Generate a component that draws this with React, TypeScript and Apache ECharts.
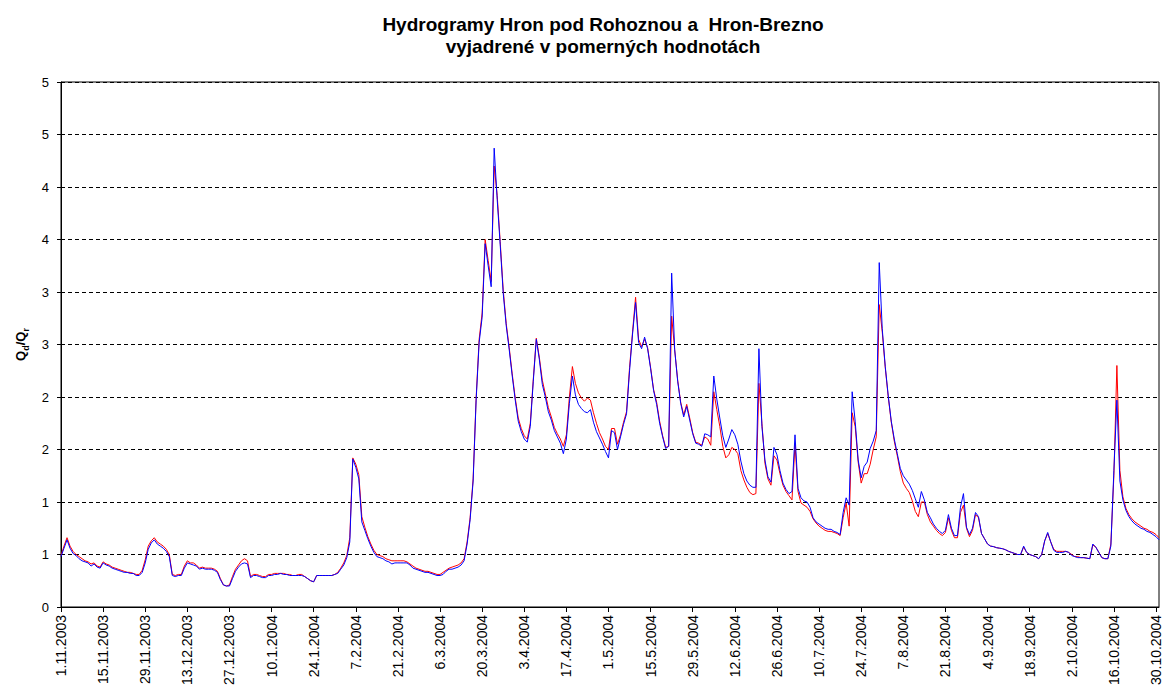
import React, { useEffect, useRef } from "react";
import * as echarts from "echarts";

// Daily discharge ratio Qd/Qr, hydrological year 1.11.2003 – 31.10.2004
const START = { year: 2003, month: 10, day: 1 };
const DAY_COUNT = 366;

// Hron pod Rohoznou (blue)
const qRohozna: number[] = [
  0.48, 0.56, 0.64, 0.56, 0.51, 0.49, 0.46, 0.44, 0.43, 0.42,
  0.39, 0.41, 0.38, 0.37, 0.42, 0.40, 0.39, 0.37, 0.36, 0.35,
  0.34, 0.33, 0.33, 0.32, 0.32, 0.30, 0.30, 0.33, 0.42, 0.55,
  0.61, 0.64, 0.60, 0.58, 0.56, 0.53, 0.48, 0.30, 0.29, 0.30,
  0.30, 0.37, 0.42, 0.41, 0.40, 0.39, 0.36, 0.37, 0.36, 0.36,
  0.36, 0.35, 0.33, 0.26, 0.21, 0.20, 0.20, 0.27, 0.34, 0.38,
  0.41, 0.42, 0.41, 0.28, 0.30, 0.30, 0.29, 0.28, 0.28, 0.30,
  0.30, 0.31, 0.31, 0.32, 0.31, 0.31, 0.30, 0.30, 0.30, 0.30,
  0.30, 0.29, 0.27, 0.25, 0.24, 0.30, 0.30, 0.30, 0.30, 0.30,
  0.30, 0.31, 0.32, 0.36, 0.40, 0.47, 0.62, 1.41, 1.33, 1.22,
  0.81, 0.73, 0.65, 0.58, 0.52, 0.48, 0.47, 0.46, 0.44, 0.43,
  0.41, 0.42, 0.42, 0.42, 0.42, 0.42, 0.40, 0.37, 0.36, 0.35,
  0.34, 0.33, 0.33, 0.32, 0.31, 0.30, 0.30, 0.31, 0.34, 0.36,
  0.36, 0.37, 0.38, 0.40, 0.44, 0.60, 0.83, 1.20, 1.97, 2.52,
  2.76, 3.46, 3.25, 3.05, 4.37, 3.88, 3.45, 2.99, 2.68, 2.45,
  2.20, 1.97, 1.77, 1.67, 1.60, 1.57, 1.72, 2.15, 2.55, 2.36,
  2.12, 2.00, 1.86, 1.78, 1.68, 1.62, 1.56, 1.46, 1.60, 1.94,
  2.20, 2.02, 1.93, 1.89, 1.86, 1.85, 1.88, 1.76, 1.67, 1.61,
  1.55, 1.48, 1.42, 1.68, 1.66, 1.50, 1.62, 1.74, 1.84, 2.25,
  2.60, 2.90, 2.52, 2.46, 2.57, 2.46, 2.27, 2.06, 1.93, 1.75,
  1.62, 1.51, 1.53, 3.18, 2.45, 2.15, 1.94, 1.81, 1.91, 1.78,
  1.65, 1.56, 1.55, 1.53, 1.65, 1.64, 1.62, 2.20, 1.98, 1.80,
  1.63, 1.52, 1.60, 1.69, 1.64, 1.55, 1.39, 1.27, 1.20, 1.16,
  1.14, 1.14, 2.46, 1.72, 1.40, 1.24, 1.19, 1.52, 1.45, 1.30,
  1.18, 1.12, 1.08, 1.10, 1.64, 1.13, 1.04, 1.01, 1.00, 0.95,
  0.85, 0.81, 0.79, 0.77, 0.75, 0.74, 0.74, 0.72, 0.71, 0.69,
  0.90, 1.04, 0.97, 2.05, 1.77, 1.40, 1.23, 1.34, 1.38, 1.51,
  1.58, 1.68, 3.28, 2.65, 2.29, 2.01, 1.77, 1.60, 1.46, 1.32,
  1.25, 1.21, 1.17, 1.11, 1.03, 0.95, 1.10, 1.02, 0.90, 0.85,
  0.79, 0.75, 0.72, 0.70, 0.73, 0.88, 0.75, 0.68, 0.68, 0.95,
  1.08, 0.76, 0.69, 0.75, 0.90, 0.86, 0.70, 0.65, 0.60, 0.58,
  0.575, 0.565, 0.56, 0.555, 0.545, 0.53, 0.52, 0.51, 0.50, 0.50,
  0.58, 0.52, 0.50, 0.49, 0.48, 0.46, 0.50, 0.63, 0.71, 0.62,
  0.54, 0.52, 0.52, 0.52, 0.53, 0.52, 0.49, 0.48, 0.47, 0.47,
  0.47, 0.465, 0.46, 0.60, 0.57, 0.52, 0.47, 0.46, 0.46, 0.58,
  1.30, 1.97, 1.20, 1.02, 0.92, 0.86, 0.82, 0.79, 0.77, 0.75,
  0.74, 0.72, 0.71, 0.69, 0.67, 0.64,
];

// Hron-Brezno (red)
const qBrezno: number[] = [
  0.49, 0.58, 0.66, 0.58, 0.53, 0.50, 0.48, 0.46, 0.44, 0.43,
  0.41, 0.42, 0.39, 0.38, 0.43, 0.41, 0.40, 0.38, 0.37, 0.36,
  0.35, 0.34, 0.33, 0.33, 0.32, 0.31, 0.31, 0.35, 0.45, 0.58,
  0.63, 0.66, 0.62, 0.60, 0.58, 0.55, 0.50, 0.31, 0.30, 0.31,
  0.31, 0.39, 0.44, 0.42, 0.42, 0.40, 0.37, 0.38, 0.37, 0.37,
  0.37, 0.36, 0.34, 0.27, 0.21, 0.20, 0.21, 0.29, 0.36, 0.40,
  0.44, 0.46, 0.44, 0.29, 0.31, 0.31, 0.30, 0.29, 0.29, 0.31,
  0.31, 0.32, 0.32, 0.32, 0.32, 0.31, 0.31, 0.30, 0.30, 0.31,
  0.31, 0.29, 0.27, 0.25, 0.24, 0.30, 0.30, 0.30, 0.30, 0.30,
  0.30, 0.31, 0.33, 0.37, 0.42, 0.49, 0.66, 1.42, 1.36, 1.26,
  0.86, 0.76, 0.67, 0.60, 0.54, 0.50, 0.49, 0.48, 0.46, 0.45,
  0.44, 0.44, 0.44, 0.44, 0.44, 0.43, 0.41, 0.39, 0.37, 0.36,
  0.35, 0.34, 0.34, 0.33, 0.32, 0.31, 0.31, 0.33, 0.35, 0.37,
  0.38, 0.39, 0.40, 0.42, 0.46, 0.62, 0.85, 1.22, 1.99, 2.55,
  2.80, 3.50, 3.30, 3.10, 4.20, 3.92, 3.48, 3.02, 2.70, 2.47,
  2.22, 1.99, 1.80, 1.70, 1.63, 1.60, 1.75, 2.17, 2.56, 2.38,
  2.16, 2.03, 1.90, 1.81, 1.71, 1.65, 1.60, 1.53, 1.64, 2.00,
  2.29, 2.13, 2.04, 1.99, 1.96, 1.99, 1.97, 1.85, 1.75, 1.66,
  1.60, 1.53, 1.50, 1.70, 1.70, 1.55, 1.64, 1.76, 1.86, 2.28,
  2.62, 2.95, 2.55, 2.48, 2.55, 2.47, 2.28, 2.07, 1.95, 1.77,
  1.63, 1.52, 1.53, 2.77, 2.45, 2.16, 1.95, 1.83, 1.93, 1.80,
  1.66, 1.57, 1.56, 1.54, 1.62, 1.60, 1.54, 2.05, 1.88, 1.72,
  1.53, 1.42, 1.45, 1.52, 1.50, 1.46, 1.30, 1.21, 1.14, 1.09,
  1.07, 1.08, 2.13, 1.75, 1.37, 1.22, 1.16, 1.44, 1.40, 1.27,
  1.16, 1.10, 1.06, 1.02, 1.55, 1.10, 0.99, 0.97, 0.95, 0.91,
  0.84, 0.80, 0.77, 0.75, 0.73, 0.72, 0.72, 0.71, 0.70, 0.68,
  0.85, 0.99, 0.77, 1.85, 1.72, 1.38, 1.18, 1.27, 1.27, 1.36,
  1.50, 1.62, 2.88, 2.62, 2.28, 2.00, 1.76, 1.58, 1.44, 1.29,
  1.18, 1.13, 1.09, 1.01, 0.91, 0.86, 1.00, 1.00, 0.88, 0.81,
  0.77, 0.73, 0.70, 0.68, 0.71, 0.85, 0.73, 0.66, 0.66, 0.90,
  0.97, 0.75, 0.67, 0.73, 0.88, 0.85, 0.70, 0.65, 0.60, 0.58,
  0.575, 0.565, 0.56, 0.555, 0.545, 0.53, 0.52, 0.51, 0.50, 0.50,
  0.57, 0.52, 0.50, 0.49, 0.48, 0.46, 0.50, 0.63, 0.70, 0.62,
  0.55, 0.53, 0.53, 0.53, 0.53, 0.52, 0.50, 0.48, 0.48, 0.47,
  0.47, 0.465, 0.46, 0.59, 0.57, 0.52, 0.47, 0.46, 0.46, 0.60,
  1.25, 2.30, 1.30, 1.05, 0.94, 0.88, 0.84, 0.81, 0.79, 0.77,
  0.75, 0.74, 0.72, 0.71, 0.69, 0.66,
];

// Y tick labels as printed with zero decimals (0, 0.5, 1, ... 5)
const yTickLabels = ["0", "1", "1", "2", "2", "3", "3", "4", "4", "5", "5"];

const TITLE_LINES = [
  "Hydrogramy Hron pod Rohoznou a  Hron-Brezno",
  "vyjadrené v pomerných hodnotách",
];

function buildDates(): string[] {
  const out: string[] = [];
  const d = new Date(START.year, START.month, START.day);
  for (let i = 0; i < DAY_COUNT; i++) {
    out.push(`${d.getDate()}.${d.getMonth() + 1}.${d.getFullYear()}`);
    d.setDate(d.getDate() + 1);
  }
  return out;
}

const FONT = "'Liberation Sans', Arial, sans-serif";

export default function App() {
  const ref = useRef<HTMLDivElement>(null);

  useEffect(() => {
    document.body.style.margin = "0";
    if (!ref.current) return;
    const chart = echarts.init(ref.current, null, { renderer: "svg" });
    const dates = buildDates();

    chart.setOption({
      animation: false,
      backgroundColor: "#ffffff",
      title: {
        text: TITLE_LINES.join("\n"),
        left: 598,
        top: 8,
        textAlign: "center",
        textStyle: {
          fontFamily: FONT,
          fontSize: 19,
          fontWeight: "bold",
          color: "#000",
          lineHeight: 22,
        },
      },
      grid: {
        left: 61,
        right: 6,
        top: 82,
        bottom: 93,
        show: true,
        borderColor: "#000",
        borderWidth: 1,
        backgroundColor: "transparent",
      },
      xAxis: {
        type: "category",
        data: dates,
        boundaryGap: false,
        axisLine: { lineStyle: { color: "#000", width: 1 } },
        axisTick: {
          show: true,
          interval: 13,
          length: 5,
          lineStyle: { color: "#000" },
        },
        axisLabel: {
          interval: 13,
          rotate: 90,
          fontFamily: FONT,
          fontSize: 14,
          color: "#000",
          margin: 8,
        },
        splitLine: { show: false },
      },
      yAxis: {
        type: "value",
        min: 0,
        max: 5,
        interval: 0.5,
        name: "{q|Q}{s|d}{q|/Q}{s|r}",
        nameLocation: "middle",
        nameRotate: 90,
        nameGap: 30,
        nameTextStyle: {
          fontFamily: FONT,
          color: "#000",
          rich: {
            q: { fontFamily: FONT, fontSize: 13, fontWeight: "bold", color: "#000" },
            s: {
              fontFamily: FONT,
              fontSize: 9,
              fontWeight: "bold",
              color: "#000",
              lineHeight: 20,
              verticalAlign: "bottom",
            },
          },
        },
        axisLine: { show: true, lineStyle: { color: "#000", width: 1 } },
        axisTick: { show: true, length: 4, lineStyle: { color: "#000" } },
        axisLabel: {
          fontFamily: FONT,
          fontSize: 13,
          color: "#000",
          margin: 12,
          formatter: (v: number) => yTickLabels[Math.round(v / 0.5)] ?? "",
        },
        splitLine: {
          show: true,
          lineStyle: { color: "#000", type: [4, 3], width: 1 },
        },
      },
      series: [
        {
          name: "Hron-Brezno",
          type: "line",
          data: qBrezno,
          showSymbol: false,
          lineStyle: { color: "#ff0000", width: 1 },
          itemStyle: { color: "#ff0000" },
          z: 2,
        },
        {
          name: "Hron pod Rohoznou",
          type: "line",
          data: qRohozna,
          showSymbol: false,
          lineStyle: { color: "#0000ff", width: 1 },
          itemStyle: { color: "#0000ff" },
          z: 3,
        },
      ],
    });

    return () => chart.dispose();
  }, []);

  return <div ref={ref} style={{ width: 1165, height: 700 }} />;
}
